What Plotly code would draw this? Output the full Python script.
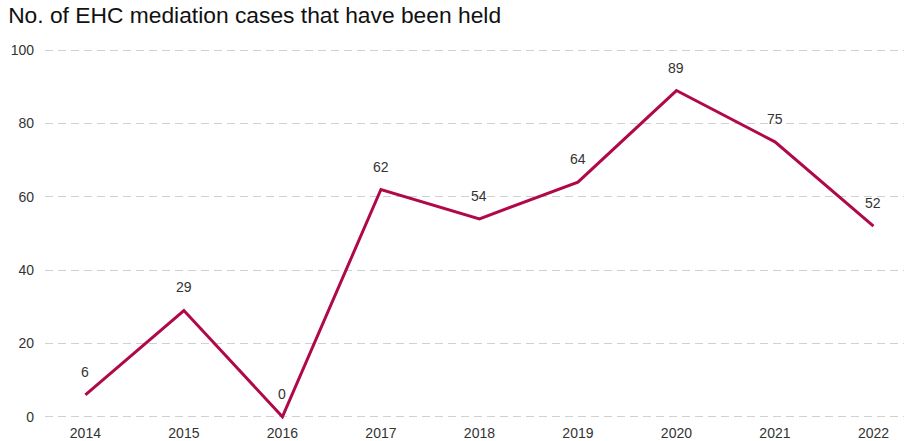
import plotly.graph_objects as go

years = [2014, 2015, 2016, 2017, 2018, 2019, 2020, 2021, 2022]
cases = [6, 29, 0, 62, 54, 64, 89, 75, 52]
y_ticks = [0, 20, 40, 60, 80, 100]

FONT = "Liberation Sans, Arial, sans-serif"

fig = go.Figure(
    go.Scatter(
        x=years,
        y=cases,
        mode="lines",
        line=dict(color="#b0094a", width=3),
        cliponaxis=False,
        hoverinfo="x+y",
    )
)

# value labels sitting above each point
for yr, val in zip(years, cases):
    fig.add_annotation(
        x=yr,
        y=val,
        text=str(val),
        showarrow=False,
        yshift=23,
        font=dict(family=FONT, size=14, color="#333333"),
    )

fig.update_layout(
    width=904,
    height=441,
    margin=dict(l=45, r=0, t=48, b=22),
    paper_bgcolor="white",
    plot_bgcolor="white",
    showlegend=False,
    title=dict(
        text="No. of EHC mediation cases that have been held",
        x=0.009,
        xanchor="left",
        y=0.965,
        yanchor="middle",
        font=dict(family=FONT, size=22.8, color="#111111"),
    ),
    font=dict(family=FONT, size=14, color="#333333"),
)

fig.update_xaxes(
    range=[2013.59, 2022.31],
    tickmode="array",
    tickvals=years,
    ticktext=[str(y) for y in years],
    showgrid=False,
    zeroline=False,
    showline=False,
    ticks="",
    ticklabelstandoff=4,
    tickfont=dict(size=14, color="#333333"),
)

fig.update_yaxes(
    range=[-0.6, 100.6],
    tickmode="array",
    tickvals=y_ticks,
    showgrid=True,
    gridcolor="#d0d0d0",
    griddash="8px,5px",
    gridwidth=1,
    zeroline=False,
    showline=False,
    ticks="",
    ticklabelstandoff=10,
    tickfont=dict(size=14, color="#333333"),
)

fig.write_html("out.html")
